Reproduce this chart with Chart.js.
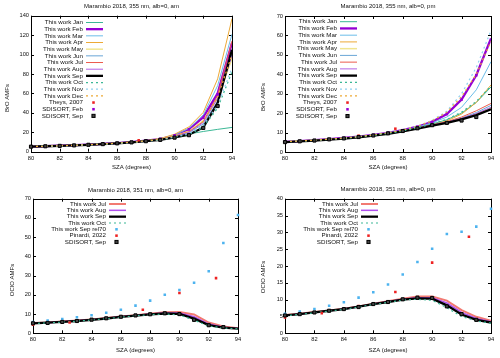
<!DOCTYPE html>
<html><head><meta charset="utf-8">
<script src="https://cdn.jsdelivr.net/npm/chart.js@4"></script>
<style>
html,body{margin:0;padding:0;background:#fff;width:500px;height:358px;overflow:hidden}
canvas{position:absolute;display:block}
</style></head><body>
<canvas id="c1" width="250" height="179" style="left:0;top:0"></canvas>
<canvas id="c2" width="250" height="179" style="left:250px;top:0"></canvas>
<canvas id="c3" width="250" height="180" style="left:0;top:178px"></canvas>
<canvas id="c4" width="250" height="180" style="left:250px;top:178px"></canvas>
<script>
// ---------- data ----------
const SZA = [80,81,82,83,84,85,86,87,88,89,90,91,92,93,94];
const SZA_SD = [80,81,82,83,84,85,86,87,88,89,90,91,92,93];
const X_TICKS = [80,82,84,86,88,90,92,94];

// Panel 1: BrO, 355 nm, am
const bam_Jan = [5.3,5.7,6.1,6.6,7.2,7.9,8.7,9.7,10.9,12.3,14.8,18.3,20.8,23.0,25.0];
const bam_Feb = [5.3,5.7,6.2,6.7,7.3,8.0,8.9,9.9,11.3,13.0,16.5,23.0,35.5,60.0,112];
const bam_Mar = [5.3,5.7,6.2,6.7,7.3,8.0,8.9,9.9,11.3,13.2,17.2,24.0,38.0,68.0,121];
const bam_Apr = [5.3,5.7,6.2,6.7,7.3,8.0,8.9,9.9,11.4,13.5,18.0,25.5,40.5,75.0,137];
const bam_May = [5.3,5.7,6.1,6.6,7.2,7.9,8.8,9.8,11.1,12.8,16.0,21.0,32.0,55.0,96];
const bam_Jun = [5.3,5.7,6.1,6.6,7.2,7.9,8.7,9.7,10.9,12.5,15.5,19.5,28.5,52.0,100];
const bam_Jul = [5.3,5.7,6.1,6.6,7.2,7.9,8.8,9.8,11.0,12.7,16.0,20.5,31.0,58.0,114];
const bam_Aug = [5.3,5.7,6.1,6.6,7.2,7.9,8.7,9.7,11.0,12.6,15.8,20.0,30.0,55.0,99];
const bam_Sep = [5.2,5.6,6.0,6.5,7.1,7.8,8.6,9.6,10.8,12.2,14.8,17.5,25.0,50.0,105];
const bam_Oct = [5.2,5.6,6.0,6.5,7.1,7.8,8.6,9.6,10.8,12.2,14.8,17.8,25.0,45.0,82];
const bam_Nov = [5.2,5.6,6.0,6.5,7.1,7.8,8.6,9.6,10.8,12.3,15.2,18.8,27.0,48.0,86];
const bam_Dec = [5.3,5.7,6.1,6.6,7.2,7.9,8.8,9.8,11.1,12.8,16.2,21.0,31.0,56.0,100];
const bam_TheysX = [87.5];
const bam_TheysY = [11.8];
const bam_SdFeb = [5.3,5.7,6.2,6.7,7.3,8.0,8.9,9.9,11.3,13.2,17.0,23.0,35.0,59.0];
const bam_SdSep = [5.2,5.6,6.0,6.5,7.1,7.8,8.6,9.6,10.8,12.2,14.5,17.0,24.5,47.0];

// Panel 2: BrO, 355 nm, pm
const bpm_Jan = [5.2,5.6,6.0,6.5,7.0,7.7,8.5,9.5,10.7,12.3,14.4,16.6,20.0,25.5,33.5];
const bpm_Feb = [5.2,5.6,6.1,6.6,7.2,7.9,8.8,9.9,11.2,13.0,15.5,19.5,27.0,39.5,58.5];
const bpm_Mar = [5.2,5.6,6.0,6.5,7.1,7.8,8.7,9.8,11.0,12.8,15.0,18.0,23.0,32.0,46.5];
const bpm_Apr = [5.2,5.6,6.0,6.5,7.0,7.7,8.5,9.5,10.7,12.2,14.0,16.0,19.5,25.5,34.5];
const bpm_May = [5.2,5.6,6.0,6.5,7.0,7.7,8.5,9.5,10.7,12.1,13.8,15.2,17.2,19.5,22.5];
const bpm_Jun = [5.2,5.6,6.0,6.5,7.0,7.7,8.5,9.5,10.7,12.1,13.9,15.4,17.5,20.3,24.0];
const bpm_Jul = [5.2,5.6,6.0,6.5,7.0,7.7,8.5,9.5,10.7,12.1,14.0,15.6,18.0,21.2,25.0];
const bpm_Aug = [5.2,5.6,6.0,6.5,7.0,7.7,8.5,9.5,10.7,12.1,13.8,15.3,17.3,19.8,23.0];
const bpm_Sep = [5.1,5.5,5.9,6.4,6.9,7.6,8.4,9.4,10.6,12.0,13.6,15.0,16.8,19.0,22.0];
const bpm_Oct = [5.2,5.6,6.0,6.5,7.0,7.7,8.5,9.5,10.8,12.4,14.5,16.8,20.5,26.0,34.0];
const bpm_Nov = [5.3,5.7,6.1,6.6,7.2,8.0,8.9,10.0,11.4,13.4,16.3,21.0,30.0,43.5,62.5];
const bpm_Dec = [5.3,5.7,6.1,6.6,7.2,7.9,8.8,9.9,11.3,13.2,16.0,20.5,28.5,40.0,57.0];
const bpm_TheysX = [85, 87.5];
const bpm_TheysY = [8.4, 12.0];
const bpm_SdFeb = [5.2,5.6,6.1,6.6,7.2,7.9,8.8,9.9,11.2,13.0,15.5,19.5,27.0,39.5];
const bpm_SdSep = [5.1,5.5,5.9,6.5,7.0,7.7,8.5,9.6,10.8,12.2,13.8,15.0,16.2,18.0];

// Panel 3: OClO, 351 nm, am
const oam_Jul = [5.3,5.6,6.1,6.6,7.2,7.9,8.7,9.4,10.2,11.0,11.1,9.8,5.6,3.5,2.6];
const oam_Aug = [5.2,5.5,6.0,6.5,7.1,7.8,8.6,9.3,10.0,10.6,10.6,8.6,4.8,3.2,2.5];
const oam_Sep = [5.2,5.5,5.9,6.4,7.0,7.7,8.5,9.2,9.8,10.3,10.1,7.6,4.3,3.0,2.4];
const oam_Oct = [5.1,5.4,5.8,6.3,6.9,7.6,8.4,9.1,9.7,10.0,9.6,6.8,3.8,2.8,2.3];
const oam_Rel70 = [5.8,6.6,7.4,8.3,9.4,10.7,12.3,14.4,17.0,20.0,22.5,26.3,32.3,47.0,61.5];
const oam_PinX = [80, 82.5, 87.5, 90, 92.5];
const oam_PinY = [4.5, 5.6, 12.2, 21.0, 28.7];
const oam_SdSep = [5.2,5.4,5.9,6.4,7.1,7.8,8.6,9.3,9.9,10.4,10.0,7.0,4.2,3.2];

// Panel 4: OClO, 351 nm, pm
const opm_Jul = [5.4,5.8,6.3,6.8,7.3,8.0,8.8,9.5,10.3,10.9,10.9,9.7,6.9,4.9,3.7];
const opm_Aug = [5.3,5.7,6.2,6.7,7.2,7.9,8.7,9.4,10.1,10.6,10.6,9.0,6.2,4.4,3.4];
const opm_Sep = [5.3,5.7,6.2,6.7,7.2,7.9,8.7,9.3,10.0,10.4,10.3,8.3,5.6,4.0,3.2];
const opm_Oct = [5.2,5.6,6.1,6.6,7.1,7.8,8.6,9.2,9.9,10.1,9.8,7.6,5.0,3.7,3.0];
const opm_Rel70 = [5.8,6.5,7.2,8.2,9.2,10.6,12.2,14.5,17.5,21.2,25.1,29.5,30.2,31.7,37.0];
const opm_PinX = [80, 82.5, 85, 87.5, 90, 92.5];
const opm_PinY = [4.7, 6.0, 8.1, 12.3, 21.0, 28.7];
const opm_SdSep = [5.3,5.7,6.2,6.7,7.2,7.8,8.7,9.3,10.1,10.6,10.5,8.0,5.7,4.0];

// ---------- helpers ----------
const FONT = "'Liberation Sans', Arial, sans-serif";
const TXT = '#111';
function pts(xs, ys){ return xs.map((x,i)=>({x:x, y:ys[i]})); }
function L(label, ys, color, w, dash){
  return {label, data: pts(SZA, ys), borderColor: color, backgroundColor: color,
    borderWidth: w, borderDash: dash || [], pointRadius: 0, pointHoverRadius: 0,
    fill: false, tension: 0, gp: {kind:'line'}};
}
function P(label, xs, ys, fill, stroke, r, bw){
  return {label, data: pts(xs, ys), showLine: false, pointStyle: 'rect',
    pointRadius: r, pointBackgroundColor: fill, pointBorderColor: stroke,
    pointBorderWidth: bw, backgroundColor: fill, borderColor: stroke, clip: 5,
    gp: {kind:'point', r: r, fill: fill, stroke: stroke, bw: bw}};
}

const C = {
  Jan:'#3cb896', Feb:'#9400d3', Mar:'#6cbde9', Apr:'#eda936', May:'#f1e590',
  Jun:'#6aa6d6', Jul:'#ec5a4c', Aug:'#b060e4', Sep:'#000000',
  Oct:'#3cb896', Nov:'#8fd0f0', Dec:'#eda936', red:'#ee2222', sky:'#4db3ef'
};
const DASH = [2,3];

function brDatasets(p){
  return [
    L('This work Jan', p.Jan, C.Jan, 1),
    L('This work Feb', p.Feb, C.Feb, 2.3),
    L('This work Mar', p.Mar, C.Mar, 1),
    L('This work Apr', p.Apr, C.Apr, 1),
    L('This work May', p.May, C.May, 1.5),
    L('This work Jun', p.Jun, C.Jun, 1),
    L('This work Jul', p.Jul, C.Jul, 1),
    L('This work Aug', p.Aug, C.Aug, 1),
    L('This work Sep', p.Sep, C.Sep, 2.3),
    L('This work Oct', p.Oct, C.Oct, 1.2, DASH),
    L('This work Nov', p.Nov, C.Nov, 1.2, DASH),
    L('This work Dec', p.Dec, C.Dec, 1.2, DASH),
    P('Theys, 2007', p.TheysX, p.TheysY, C.red, C.red, 1.8, 0),
    P('SDISORT, Feb', SZA_SD, p.SdFeb, C.Feb, C.Feb, 1.8, 0),
    P('SDISORT, Sep', SZA_SD, p.SdSep, '#444', '#000', 2.2, 1)
  ];
}
function ocDatasets(p){
  return [
    L('This work Jul', p.Jul, '#f27a72', 2),
    L('This work Aug', p.Aug, '#b050ee', 1.5),
    L('This work Sep', p.Sep, '#000', 2.3),
    L('This work Oct', p.Oct, '#3cb896', 1.2, DASH),
    P('This work Sep rel70', SZA, p.Rel70, C.sky, C.sky, 1.8, 0),
    P('Pinardi, 2022', p.PinX, p.PinY, C.red, C.red, 1.8, 0),
    P('SDISORT, Sep', SZA_SD, p.SdSep, '#444', '#000', 2.2, 1)
  ];
}

const gpPlugin = {
  id: 'gp',
  beforeDatasetsDraw(chart){
    const ctx = chart.ctx, a = chart.chartArea;
    const xs = chart.scales.x, ys = chart.scales.y;
    ctx.save();
    ctx.strokeStyle = '#000'; ctx.lineWidth = 1;
    ctx.beginPath();
    xs.ticks.forEach(t => {
      const px = Math.round(xs.getPixelForValue(t.value)) + 0.5;
      ctx.moveTo(px, a.bottom); ctx.lineTo(px, a.bottom - 3);
      ctx.moveTo(px, a.top); ctx.lineTo(px, a.top + 3);
    });
    ys.ticks.forEach(t => {
      const py = Math.round(ys.getPixelForValue(t.value)) + 0.5;
      ctx.moveTo(a.left, py); ctx.lineTo(a.left + 3, py);
      ctx.moveTo(a.right, py); ctx.lineTo(a.right - 3, py);
    });
    ctx.stroke();
    ctx.strokeRect(Math.round(a.left)+0.5, Math.round(a.top)+0.5,
      Math.round(a.right)-Math.round(a.left), Math.round(a.bottom)-Math.round(a.top));
    ctx.restore();
  },
  afterDraw(chart, args, o){
    const ctx = chart.ctx, a = chart.chartArea;
    ctx.save();
    ctx.fillStyle = TXT;
    ctx.font = '6px ' + FONT;
    ctx.textAlign = 'center'; ctx.textBaseline = 'middle';
    const cx = (a.left + a.right) / 2;
    ctx.fillText(o.title, cx, o.titleY);
    ctx.fillText('SZA (degrees)', cx, o.xTitleY);
    ctx.save();
    ctx.translate(o.yTitleX, o.yTitleY);
    ctx.rotate(-Math.PI/2);
    ctx.fillText(o.yTitle, 0, 0);
    ctx.restore();
    // legend
    const lg = o.legend;
    ctx.font = '6.2px ' + FONT;
    chart.data.datasets.forEach((ds, i) => {
      const y = lg.y0 + i * lg.dy;
      ctx.fillStyle = TXT;
      ctx.textAlign = 'right';
      ctx.fillText(ds.label, lg.tr, y);
      if (ds.gp.kind === 'line') {
        ctx.strokeStyle = ds.borderColor;
        ctx.lineWidth = ds.borderWidth;
        ctx.setLineDash(ds.borderDash || []);
        ctx.beginPath();
        ctx.moveTo(lg.x1, y); ctx.lineTo(lg.x2, y);
        ctx.stroke();
        ctx.setLineDash([]);
      } else {
        const g = ds.gp, s = g.r * Math.SQRT1_2;
        const mx = (lg.x1 + lg.x2) / 2 - 1;
        ctx.fillStyle = g.fill;
        ctx.fillRect(mx - s, y - s, 2*s, 2*s);
        if (g.bw) { ctx.strokeStyle = g.stroke; ctx.lineWidth = g.bw; ctx.strokeRect(mx - s, y - s, 2*s, 2*s); }
      }
    });
    ctx.restore();
  }
};

function make(id, datasets, cfg){
  const cv = document.getElementById(id);
  const W = cv.width, H = cv.height;
  datasets.forEach((d, i) => { d.order = datasets.length - i; });
  return new Chart(cv, {
    type: 'line',
    data: { datasets },
    plugins: [gpPlugin],
    options: {
      responsive: false, animation: false, devicePixelRatio: 1,
      events: [],
      layout: { padding: { left: 0, top: cfg.T, right: W - cfg.R, bottom: 0 } },
      plugins: {
        legend: { display: false }, tooltip: { enabled: false }, title: { display: false },
        gp: cfg.gp
      },
      scales: {
        x: {
          type: 'linear', min: 80, max: 94,
          afterBuildTicks: s => { s.ticks = X_TICKS.map(v => ({value: v})); },
          ticks: { font: { size: 5.7, family: FONT }, color: TXT, padding: 3, maxRotation: 0, autoSkip: false },
          grid: { display: false, drawTicks: false }, border: { display: false },
          afterFit: s => { s.height = H - cfg.B; }
        },
        y: {
          type: 'linear', min: 0, max: cfg.ymax,
          ticks: { stepSize: cfg.ystep, font: { size: 5.7, family: FONT }, color: TXT, padding: 2 },
          grid: { display: false, drawTicks: false }, border: { display: false },
          afterFit: s => { s.width = cfg.L; }
        }
      }
    }
  });
}

make('c1', brDatasets({Jan:bam_Jan,Feb:bam_Feb,Mar:bam_Mar,Apr:bam_Apr,May:bam_May,Jun:bam_Jun,Jul:bam_Jul,Aug:bam_Aug,Sep:bam_Sep,Oct:bam_Oct,Nov:bam_Nov,Dec:bam_Dec,TheysX:bam_TheysX,TheysY:bam_TheysY,SdFeb:bam_SdFeb,SdSep:bam_SdSep}),
  {L:31, R:232, T:15.7, B:151.7, ymax:140, ystep:20,
   gp:{title:'Marambio 2018, 355 nm, alb=0, am', titleY:6, xTitleY:167, yTitle:'BrO AMFs', yTitleX:7.5, yTitleY:98,
       legend:{tr:83, x1:86, x2:103, y0:22.5, dy:6.67}}});
make('c2', brDatasets({Jan:bpm_Jan,Feb:bpm_Feb,Mar:bpm_Mar,Apr:bpm_Apr,May:bpm_May,Jun:bpm_Jun,Jul:bpm_Jul,Aug:bpm_Aug,Sep:bpm_Sep,Oct:bpm_Oct,Nov:bpm_Nov,Dec:bpm_Dec,TheysX:bpm_TheysX,TheysY:bpm_TheysY,SdFeb:bpm_SdFeb,SdSep:bpm_SdSep}),
  {L:35, R:241, T:16, B:152, ymax:70, ystep:10,
   gp:{title:'Marambio 2018, 355 nm, alb=0, pm', titleY:6, xTitleY:167, yTitle:'BrO AMFs', yTitleX:13, yTitleY:97,
       legend:{tr:87, x1:90, x2:107, y0:21.7, dy:6.74}}});
make('c3', ocDatasets({Jul:oam_Jul,Aug:oam_Aug,Sep:oam_Sep,Oct:oam_Oct,Rel70:oam_Rel70,PinX:oam_PinX,PinY:oam_PinY,SdSep:oam_SdSep}),
  {L:33, R:238, T:20.7, B:155.3, ymax:70, ystep:10,
   gp:{title:'Marambio 2018, 351 nm, alb=0, am', titleY:12.3, xTitleY:172.7, yTitle:'OClO AMFs', yTitleX:12, yTitleY:102,
       legend:{tr:106, x1:109, x2:126, y0:26, dy:6.33}}});
make('c4', ocDatasets({Jul:opm_Jul,Aug:opm_Aug,Sep:opm_Sep,Oct:opm_Oct,Rel70:opm_Rel70,PinX:opm_PinX,PinY:opm_PinY,SdSep:opm_SdSep}),
  {L:35, R:241, T:20.7, B:155.3, ymax:40, ystep:5,
   gp:{title:'Marambio 2018, 351 nm, alb=0, pm', titleY:11.7, xTitleY:172.7, yTitle:'OClO AMFs', yTitleX:13, yTitleY:99,
       legend:{tr:108, x1:111, x2:128, y0:26, dy:6.33}}});
</script>
</body></html>
